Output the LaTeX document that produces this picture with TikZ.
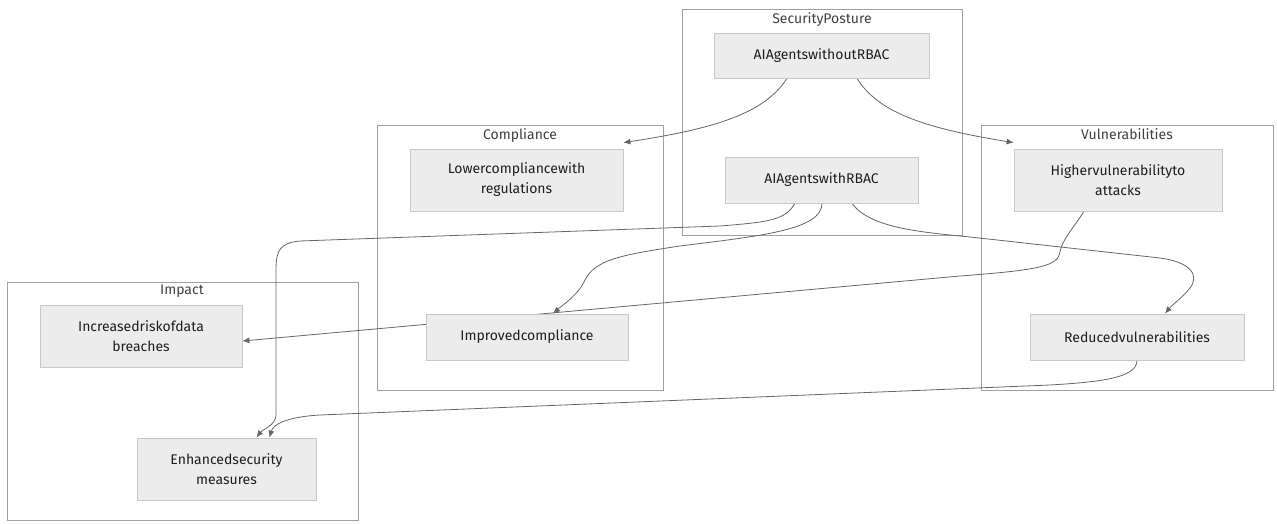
\documentclass[tikz,border=0pt]{standalone}
\usepackage{fontspec}
\setmainfont{Fira Sans}
\usetikzlibrary{arrows.meta}
\pgfdeclarelayer{background}
\pgfdeclarelayer{edges}
\pgfsetlayers{background,edges,main}
\definecolor{nodefill}{HTML}{ECECEC}
\definecolor{nodeborder}{HTML}{C8C8C8}
\definecolor{clusterborder}{HTML}{A0A0A0}
\definecolor{edgecol}{HTML}{666666}
\definecolor{txt}{HTML}{1E1E1E}
\tikzset{
  box/.style={draw=nodeborder, fill=nodefill, line width=0.8pt, inner sep=0pt, align=center, text=txt, font=\fontsize{14}{20}\selectfont},
  cluster/.style={draw=clusterborder, line width=0.8pt},
  ctitle/.style={text=txt!85, font=\fontsize{14}{17}\selectfont, anchor=north, inner sep=0pt},
  conn/.style={draw=edgecol, line width=0.8pt, -{Latex[length=7pt,width=6pt]}},
}
\begin{document}
\begin{tikzpicture}[x=1pt,y=-1pt]
\useasboundingbox (0,0) rectangle (1277,524);
% clusters
\begin{pgfonlayer}{background}
\draw[cluster] (682,9) rectangle (962,235);
\draw[cluster] (377,125) rectangle (663,390);
\draw[cluster] (981,125) rectangle (1273,390);
\draw[cluster] (7,282) rectangle (358,520);
\end{pgfonlayer}
\node[ctitle] (tsp) at (822,12) {SecurityPosture};
\node[ctitle] (tco) at (520,128) {Compliance};
\node[ctitle] (tvu) at (1127,128) {Vulnerabilities};
\node[ctitle] (tim) at (182,285) {Impact};
% nodes
\node[box, minimum width=215pt, minimum height=45pt] (wo) at (821.5,55.5) {AIAgentswithoutRBAC};
\node[box, minimum width=193pt, minimum height=46pt] (w) at (821.5,180) {AIAgentswithRBAC};
\node[box, minimum width=213pt, minimum height=62pt] (lc) at (516.5,180) {Lowercompliancewith\\regulations};
\node[box, minimum width=202pt, minimum height=46pt] (ic) at (527,337) {Improvedcompliance};
\node[box, minimum width=208pt, minimum height=62pt] (hv) at (1118,180) {Highervulnerabilityto\\attacks};
\node[box, minimum width=214pt, minimum height=46pt] (rv) at (1137,337) {Reducedvulnerabilities};
\node[box, minimum width=202pt, minimum height=62pt] (ir) at (141,336) {Increasedriskofdata\\breaches};
\node[box, minimum width=179pt, minimum height=62pt] (es) at (226.5,469) {Enhancedsecurity\\measures};
% edges
\begin{pgfonlayer}{edges}
\draw[conn] ([xshift=-34.5pt]wo.south) .. controls (765,112) and (720,128) .. ([yshift=6pt]lc.north east);
\draw[conn] ([xshift=35.5pt]wo.south) .. controls (878,112) and (923,128) .. ([yshift=6pt]hv.north west);
\draw[conn] ([xshift=-26.5pt]w.south) .. controls (785,220) and (770,222) .. (720,226) -- (300,241) .. controls (280,243) and (276,250) .. (276,270) -- (276,415) .. controls (276,425) and (262,430) .. ([xshift=30pt]es.north);
\draw[conn] ([xshift=0.5pt]w.south) .. controls (822,230) and (760,236) .. (680,246) .. controls (620,255) and (595,260) .. (585,280) .. controls (578,295) and (565,303) .. ([xshift=26pt]ic.north);
\draw[conn] ([xshift=30.5pt]w.south) .. controls (870,228) and (920,232) .. (970,237) -- (1160,258) .. controls (1190,262) and (1200,275) .. (1190,288) .. controls (1182,298) and (1172,305) .. ([xshift=28pt]rv.north);
\draw[conn] ([xshift=-34pt]hv.south) .. controls (1072,230) and (1062,240) .. (1060,252) .. controls (1058,266) and (1040,270) .. (960,276) -- ([yshift=-5pt]ir.east);
\draw[conn] (rv.south) .. controls (1137,378) and (1100,382) .. (1050,385) -- (320,415) .. controls (285,417) and (273,425) .. ([xshift=43pt]es.north);
\end{pgfonlayer}
\end{tikzpicture}
\end{document}
